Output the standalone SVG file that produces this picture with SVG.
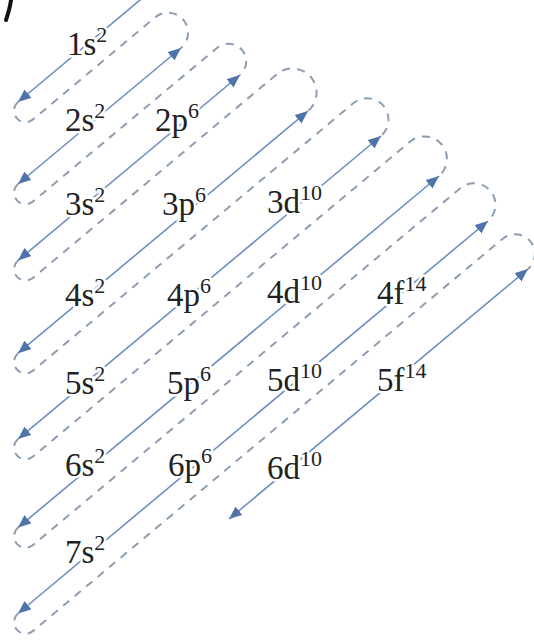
<svg xmlns="http://www.w3.org/2000/svg" width="534" height="640" viewBox="0 0 534 640">
<style>
.solid{fill:none;stroke:#6d8ec4;stroke-width:1.6;marker-start:url(#ah);marker-end:url(#ah)}
.dash{fill:none;stroke:#8d9db3;stroke-width:2;stroke-dasharray:8 7}
.lbl{font-family:"Liberation Serif","Times New Roman",serif;font-size:33px;fill:#222;stroke:#fff;stroke-width:5;stroke-linejoin:round;paint-order:stroke fill}
.sup{font-size:22px}
</style>
<defs>
<marker id="ah" viewBox="0 0 12 10" refX="12" refY="5" markerWidth="13" markerHeight="11" markerUnits="userSpaceOnUse" orient="auto-start-reverse">
<path d="M0,0 L12,5 L0,10 z" fill="#4f74aa"/>
</marker>
</defs>
<rect width="534" height="640" fill="#fff"/>
<path d="M11,0 C10,8 8,14 6,20" fill="none" stroke="#111" stroke-width="4" stroke-linecap="round"/>
<g id="connectors">
<path class="dash" d="M18,102 A11.5,11.5 0 0 0 32.74,119.65 L155.3,17.22 A20.05,20.05 0 0 1 181,48"/>
<path class="dash" d="M18,184 A11.5,11.5 0 0 0 32.74,201.65 L217.25,47.75 A17.75,17.75 0 0 1 240,75"/>
<path class="dash" d="M18,260.4 A11.5,11.5 0 0 0 32.74,278.05 L277.11,74 A24.1,24.1 0 0 1 308,111"/>
<path class="dash" d="M18,353.2 A11.5,11.5 0 0 0 32.74,370.85 L353.51,103.07 A21.45,21.45 0 0 1 381,136"/>
<path class="dash" d="M18,439.1 A11.5,11.5 0 0 0 32.74,456.75 L410.23,141.53 A22.45,22.45 0 0 1 439,176"/>
<path class="dash" d="M18,527.6 A11.5,11.5 0 0 0 32.74,545.25 L460.51,188.07 A21.45,21.45 0 0 1 488,221"/>
<path class="dash" d="M18,613.5 A11.5,11.5 0 0 0 32.74,631.15 L502.69,238.68 A19.75,19.75 0 0 1 528,269"/>
<path class="solid" style="marker-start:none" d="M152,-10 L18,102"/>
<path class="solid" d="M181,48 L18,184"/>
<path class="solid" d="M240,75 L18,260.4"/>
<path class="solid" d="M308,111 L18,353.2"/>
<path class="solid" d="M381,136 L18,439.1"/>
<path class="solid" d="M439,176 L18,527.6"/>
<path class="solid" d="M488,221 L18,613.5"/>
<path class="solid" d="M528,269 L229,519"/>
</g>
<g id="n1s"><text class="lbl" x="67" y="55">1s<tspan class="sup" dy="-13">2</tspan></text></g>
<g id="n2s"><text class="lbl" x="65" y="131">2s<tspan class="sup" dy="-13">2</tspan></text></g>
<g id="n2p"><text class="lbl" x="155" y="131">2p<tspan class="sup" dy="-13">6</tspan></text></g>
<g id="n3s"><text class="lbl" x="65" y="215">3s<tspan class="sup" dy="-13">2</tspan></text></g>
<g id="n3p"><text class="lbl" x="162" y="215">3p<tspan class="sup" dy="-13">6</tspan></text></g>
<g id="n3d"><text class="lbl" x="267" y="213">3d<tspan class="sup" dy="-13">10</tspan></text></g>
<g id="n4s"><text class="lbl" x="65" y="306">4s<tspan class="sup" dy="-13">2</tspan></text></g>
<g id="n4p"><text class="lbl" x="167" y="306">4p<tspan class="sup" dy="-13">6</tspan></text></g>
<g id="n4d"><text class="lbl" x="267" y="303">4d<tspan class="sup" dy="-13">10</tspan></text></g>
<g id="n4f"><text class="lbl" x="377" y="304">4f<tspan class="sup" dy="-13">14</tspan></text></g>
<g id="n5s"><text class="lbl" x="65" y="394">5s<tspan class="sup" dy="-13">2</tspan></text></g>
<g id="n5p"><text class="lbl" x="167" y="394">5p<tspan class="sup" dy="-13">6</tspan></text></g>
<g id="n5d"><text class="lbl" x="267" y="391">5d<tspan class="sup" dy="-13">10</tspan></text></g>
<g id="n5f"><text class="lbl" x="377" y="391">5f<tspan class="sup" dy="-13">14</tspan></text></g>
<g id="n6s"><text class="lbl" x="65" y="476">6s<tspan class="sup" dy="-13">2</tspan></text></g>
<g id="n6p"><text class="lbl" x="168" y="476">6p<tspan class="sup" dy="-13">6</tspan></text></g>
<g id="n6d"><text class="lbl" x="267" y="479">6d<tspan class="sup" dy="-13">10</tspan></text></g>
<g id="n7s"><text class="lbl" x="65" y="563">7s<tspan class="sup" dy="-13">2</tspan></text></g>
</svg>
